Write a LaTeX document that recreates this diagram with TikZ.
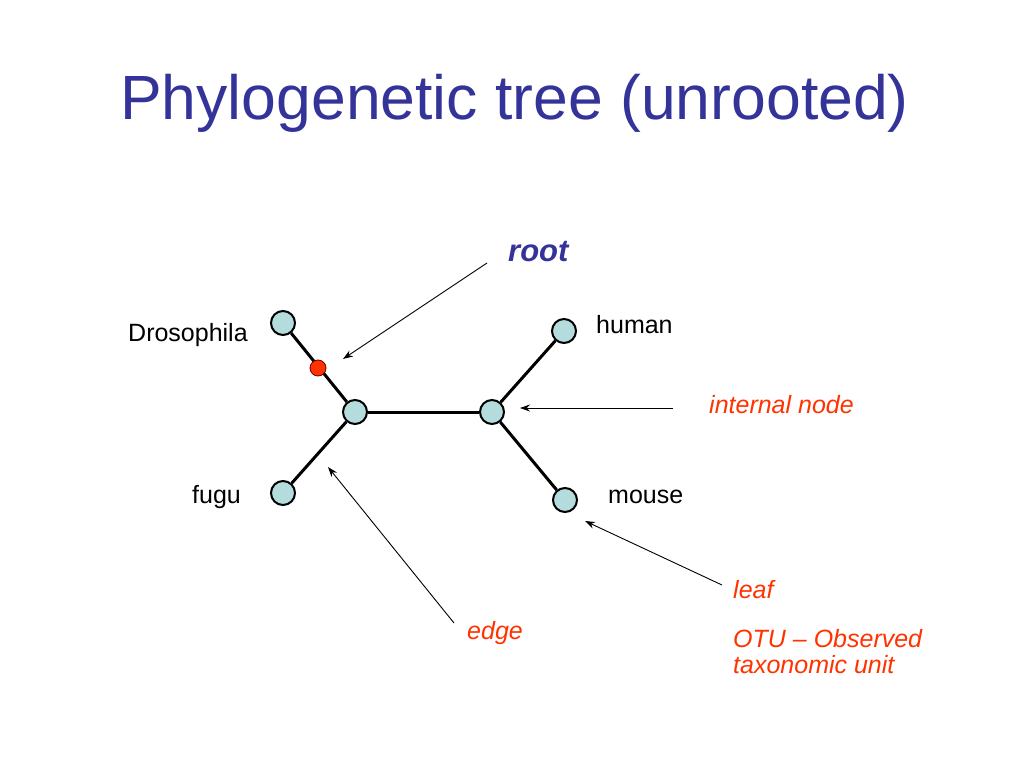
\documentclass[tikz,border=0pt]{standalone}
\usepackage{fontspec}
\setmainfont{Liberation Sans}
\usetikzlibrary{arrows.meta}
\definecolor{titleblue}{HTML}{333399}
\definecolor{labred}{HTML}{FF3300}
\definecolor{nodefill}{HTML}{B4DCDC}
\definecolor{rootred}{HTML}{FF3300}
\begin{document}
\begin{tikzpicture}[x=1pt,y=-1pt,
  treenode/.style={circle,draw=black,line width=2pt,fill=nodefill,minimum size=24pt,inner sep=0pt},
  rootnode/.style={circle,draw=black!60!red,line width=0.8pt,fill=rootred,minimum size=16pt,inner sep=0pt},
  branch/.style={line width=3pt},
  pointer/.style={line width=0.9pt,-{Stealth[length=10pt,width=7pt]}},
  blacklab/.style={anchor=base west,inner sep=0pt,font=\fontsize{25}{29}\selectfont},
  redlab/.style={anchor=base west,inner sep=0pt,text=labred,font=\fontsize{25}{29}\selectfont\itshape},
]
\useasboundingbox (0,0) rectangle (1024,768);
\fill[white] (0,0) rectangle (1024,768);

\node[anchor=base west,inner sep=0pt,text=titleblue,font=\fontsize{62.5}{70}\selectfont] (title) at (120,119) {Phylogenetic tree (unrooted)};

% tree
\node[treenode] (dros) at (283,323) {};
\node[treenode] (fugu) at (283,493) {};
\node[treenode] (lint) at (355,412) {};
\node[treenode] (rint) at (492,412) {};
\node[treenode] (human) at (564,331) {};
\node[treenode] (mouse) at (565,500) {};
\coordinate (rootpos) at (318,368);

\draw[branch] (dros) -- (lint);
\draw[branch] (fugu) -- (lint);
\draw[branch] (lint) -- (rint);
\draw[branch] (rint) -- (human);
\draw[branch] (rint) -- (mouse);
\node[rootnode] (root) at (rootpos) {};

% labels
\node[blacklab] (ldros) at (128,341) {Drosophila};
\node[blacklab] (lfugu) at (192,503) {fugu};
\node[blacklab] (lhuman) at (596,333) {human};
\node[blacklab] (lmouse) at (608,503) {mouse};

\node[anchor=base west,inner sep=0pt,text=titleblue,font=\fontsize{31}{36}\selectfont\bfseries\itshape] (lroot) at (508,261) {root};
\node[redlab] (lint2) at (709,413) {internal node};
\node[redlab] (lleaf) at (733,598) {leaf};
\node[redlab] (ledge) at (467,639) {edge};
\node[redlab] (lotu) at (733,647) {OTU -- Observed};
\node[redlab] (ltax) at (733,673) {taxonomic unit};

% pointers
\coordinate (rootTail) at (487,263);
\coordinate (rootTip) at (343,359);
\coordinate (intTail) at (673,408);
\coordinate (intTip) at (520,408);
\coordinate (leafTail) at (722,585);
\coordinate (leafTip) at (585,521);
\coordinate (edgeTail) at (454,623);
\coordinate (edgeTip) at (328,467);
\draw[pointer] (rootTail) -- (rootTip);
\draw[pointer] (intTail) -- (intTip);
\draw[pointer] (leafTail) -- (leafTip);
\draw[pointer] (edgeTail) -- (edgeTip);
\end{tikzpicture}
\end{document}
